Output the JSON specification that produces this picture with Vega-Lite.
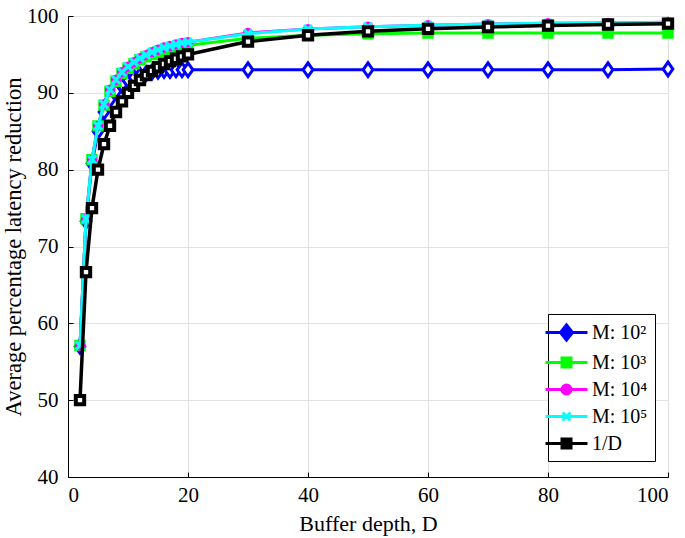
{
  "$schema": "https://vega.github.io/schema/vega-lite/v6.json",
  "width": 600,
  "height": 461,
  "autosize": "none",
  "padding": {"left": 68, "top": 16, "right": 17, "bottom": 61},
  "background": "white",
  "config": {
    "view": {"stroke": "black", "strokeWidth": 1},
    "font": "Liberation Serif",
    "axis": {
      "labelFont": "Liberation Serif",
      "labelFontSize": 21,
      "labelColor": "black",
      "titleFont": "Liberation Serif",
      "titleFontSize": 22,
      "titleFontWeight": "normal",
      "titleColor": "black",
      "domainColor": "black",
      "tickColor": "black",
      "tickSize": -5,
      "gridColor": "#e2e2e2",
      "gridWidth": 1
    },
    "legend": {
      "labelFont": "Liberation Serif",
      "labelFontSize": 20,
      "labelColor": "black"
    }
  },
  "data": {
    "values": [
      {"D": 2, "v": 57.0, "s": "M: 10²"}, {"D": 3, "v": 73.3, "s": "M: 10²"}, {"D": 4, "v": 80.8, "s": "M: 10²"}, {"D": 5, "v": 85.0, "s": "M: 10²"}, {"D": 6, "v": 87.5, "s": "M: 10²"}, {"D": 7, "v": 89.1, "s": "M: 10²"}, {"D": 8, "v": 90.2, "s": "M: 10²"}, {"D": 9, "v": 91.0, "s": "M: 10²"}, {"D": 10, "v": 91.6, "s": "M: 10²"}, {"D": 11, "v": 92.0, "s": "M: 10²"}, {"D": 12, "v": 92.3, "s": "M: 10²"}, {"D": 13, "v": 92.5, "s": "M: 10²"}, {"D": 14, "v": 92.7, "s": "M: 10²"}, {"D": 15, "v": 92.8, "s": "M: 10²"}, {"D": 16, "v": 92.9, "s": "M: 10²"}, {"D": 17, "v": 92.9, "s": "M: 10²"}, {"D": 18, "v": 93.0, "s": "M: 10²"}, {"D": 19, "v": 93.0, "s": "M: 10²"}, {"D": 20, "v": 93.0, "s": "M: 10²"}, {"D": 30, "v": 93.0, "s": "M: 10²"}, {"D": 40, "v": 93.0, "s": "M: 10²"}, {"D": 50, "v": 93.0, "s": "M: 10²"}, {"D": 60, "v": 93.0, "s": "M: 10²"}, {"D": 70, "v": 93.0, "s": "M: 10²"}, {"D": 80, "v": 93.0, "s": "M: 10²"}, {"D": 90, "v": 93.0, "s": "M: 10²"}, {"D": 100, "v": 93.1, "s": "M: 10²"},
      {"D": 2, "v": 57.1, "s": "M: 10³"}, {"D": 3, "v": 73.6, "s": "M: 10³"}, {"D": 4, "v": 81.3, "s": "M: 10³"}, {"D": 5, "v": 85.7, "s": "M: 10³"}, {"D": 6, "v": 88.4, "s": "M: 10³"}, {"D": 7, "v": 90.2, "s": "M: 10³"}, {"D": 8, "v": 91.5, "s": "M: 10³"}, {"D": 9, "v": 92.5, "s": "M: 10³"}, {"D": 10, "v": 93.2, "s": "M: 10³"}, {"D": 11, "v": 93.8, "s": "M: 10³"}, {"D": 12, "v": 94.3, "s": "M: 10³"}, {"D": 13, "v": 94.7, "s": "M: 10³"}, {"D": 14, "v": 95.0, "s": "M: 10³"}, {"D": 15, "v": 95.3, "s": "M: 10³"}, {"D": 16, "v": 95.5, "s": "M: 10³"}, {"D": 17, "v": 95.7, "s": "M: 10³"}, {"D": 18, "v": 95.9, "s": "M: 10³"}, {"D": 19, "v": 96.1, "s": "M: 10³"}, {"D": 20, "v": 96.2, "s": "M: 10³"}, {"D": 30, "v": 97.1, "s": "M: 10³"}, {"D": 40, "v": 97.5, "s": "M: 10³"}, {"D": 50, "v": 97.7, "s": "M: 10³"}, {"D": 60, "v": 97.8, "s": "M: 10³"}, {"D": 70, "v": 97.8, "s": "M: 10³"}, {"D": 80, "v": 97.8, "s": "M: 10³"}, {"D": 90, "v": 97.8, "s": "M: 10³"}, {"D": 100, "v": 97.8, "s": "M: 10³"},
      {"D": 2, "v": 57.1, "s": "M: 10⁴"}, {"D": 3, "v": 73.6, "s": "M: 10⁴"}, {"D": 4, "v": 81.3, "s": "M: 10⁴"}, {"D": 5, "v": 85.7, "s": "M: 10⁴"}, {"D": 6, "v": 88.5, "s": "M: 10⁴"}, {"D": 7, "v": 90.4, "s": "M: 10⁴"}, {"D": 8, "v": 91.7, "s": "M: 10⁴"}, {"D": 9, "v": 92.7, "s": "M: 10⁴"}, {"D": 10, "v": 93.4, "s": "M: 10⁴"}, {"D": 11, "v": 94.0, "s": "M: 10⁴"}, {"D": 12, "v": 94.5, "s": "M: 10⁴"}, {"D": 13, "v": 94.9, "s": "M: 10⁴"}, {"D": 14, "v": 95.3, "s": "M: 10⁴"}, {"D": 15, "v": 95.6, "s": "M: 10⁴"}, {"D": 16, "v": 95.9, "s": "M: 10⁴"}, {"D": 17, "v": 96.1, "s": "M: 10⁴"}, {"D": 18, "v": 96.3, "s": "M: 10⁴"}, {"D": 19, "v": 96.5, "s": "M: 10⁴"}, {"D": 20, "v": 96.6, "s": "M: 10⁴"}, {"D": 30, "v": 97.8, "s": "M: 10⁴"}, {"D": 40, "v": 98.3, "s": "M: 10⁴"}, {"D": 50, "v": 98.6, "s": "M: 10⁴"}, {"D": 60, "v": 98.8, "s": "M: 10⁴"}, {"D": 70, "v": 98.95, "s": "M: 10⁴"}, {"D": 80, "v": 99.05, "s": "M: 10⁴"}, {"D": 90, "v": 99.1, "s": "M: 10⁴"}, {"D": 100, "v": 99.2, "s": "M: 10⁴"},
      {"D": 2, "v": 57.1, "s": "M: 10⁵"}, {"D": 3, "v": 73.6, "s": "M: 10⁵"}, {"D": 4, "v": 81.3, "s": "M: 10⁵"}, {"D": 5, "v": 85.7, "s": "M: 10⁵"}, {"D": 6, "v": 88.5, "s": "M: 10⁵"}, {"D": 7, "v": 90.4, "s": "M: 10⁵"}, {"D": 8, "v": 91.7, "s": "M: 10⁵"}, {"D": 9, "v": 92.7, "s": "M: 10⁵"}, {"D": 10, "v": 93.4, "s": "M: 10⁵"}, {"D": 11, "v": 94.0, "s": "M: 10⁵"}, {"D": 12, "v": 94.5, "s": "M: 10⁵"}, {"D": 13, "v": 94.9, "s": "M: 10⁵"}, {"D": 14, "v": 95.3, "s": "M: 10⁵"}, {"D": 15, "v": 95.6, "s": "M: 10⁵"}, {"D": 16, "v": 95.9, "s": "M: 10⁵"}, {"D": 17, "v": 96.1, "s": "M: 10⁵"}, {"D": 18, "v": 96.3, "s": "M: 10⁵"}, {"D": 19, "v": 96.5, "s": "M: 10⁵"}, {"D": 20, "v": 96.6, "s": "M: 10⁵"}, {"D": 30, "v": 97.7, "s": "M: 10⁵"}, {"D": 40, "v": 98.3, "s": "M: 10⁵"}, {"D": 50, "v": 98.6, "s": "M: 10⁵"}, {"D": 60, "v": 98.8, "s": "M: 10⁵"}, {"D": 70, "v": 98.95, "s": "M: 10⁵"}, {"D": 80, "v": 99.05, "s": "M: 10⁵"}, {"D": 90, "v": 99.1, "s": "M: 10⁵"}, {"D": 100, "v": 99.2, "s": "M: 10⁵"},
      {"D": 2, "v": 50.0, "s": "1/D"}, {"D": 3, "v": 66.67, "s": "1/D"}, {"D": 4, "v": 75.0, "s": "1/D"}, {"D": 5, "v": 80.0, "s": "1/D"}, {"D": 6, "v": 83.33, "s": "1/D"}, {"D": 7, "v": 85.71, "s": "1/D"}, {"D": 8, "v": 87.5, "s": "1/D"}, {"D": 9, "v": 88.89, "s": "1/D"}, {"D": 10, "v": 90.0, "s": "1/D"}, {"D": 11, "v": 90.91, "s": "1/D"}, {"D": 12, "v": 91.67, "s": "1/D"}, {"D": 13, "v": 92.31, "s": "1/D"}, {"D": 14, "v": 92.86, "s": "1/D"}, {"D": 15, "v": 93.33, "s": "1/D"}, {"D": 16, "v": 93.75, "s": "1/D"}, {"D": 17, "v": 94.12, "s": "1/D"}, {"D": 18, "v": 94.44, "s": "1/D"}, {"D": 19, "v": 94.74, "s": "1/D"}, {"D": 20, "v": 95.0, "s": "1/D"}, {"D": 30, "v": 96.67, "s": "1/D"}, {"D": 40, "v": 97.5, "s": "1/D"}, {"D": 50, "v": 98.0, "s": "1/D"}, {"D": 60, "v": 98.33, "s": "1/D"}, {"D": 70, "v": 98.57, "s": "1/D"}, {"D": 80, "v": 98.75, "s": "1/D"}, {"D": 90, "v": 98.89, "s": "1/D"}, {"D": 100, "v": 99.0, "s": "1/D"}
    ]
  },
  "encoding": {
    "x": {
      "field": "D", "type": "quantitative",
      "scale": {"domain": [0, 100], "nice": false, "zero": false},
      "axis": {"values": [0, 20, 40, 60, 80, 100], "title": "Buffer depth, D", "labelPadding": 12, "titlePadding": 8, "grid": true}
    },
    "y": {
      "field": "v", "type": "quantitative",
      "scale": {"domain": [40, 100], "nice": false, "zero": false},
      "axis": {"values": [40, 50, 60, 70, 80, 90, 100], "title": "Average percentage latency reduction", "titleFontSize": 22.5, "labelPadding": 15, "titlePadding": 1, "grid": true}
    },
    "stroke": {
      "field": "s", "type": "nominal",
      "scale": {"domain": ["M: 10²", "M: 10³", "M: 10⁴", "M: 10⁵", "1/D"], "range": ["#0000ff", "#00ff00", "#ff00ff", "#00ffff", "#000000"]},
      "legend": {
        "title": null,
        "orient": "none",
        "legendX": 480,
        "legendY": 298,
        "padding": 7,
        "strokeColor": "black",
        "fillColor": "white",
        "symbolSize": 400,
        "symbolStrokeWidth": 3,
        "rowPadding": 5,
        "labelOffset": 14,
        "cornerRadius": 0,
        "encode": {
          "symbols": {
            "update": {
              "shape": {"signal": "datum.value === 'M: 10²' ? 'M-2.1,0H2.1M0,-0.75L0.6,0L0,0.75L-0.6,0Z' : datum.value === 'M: 10³' ? 'M-2.1,0H2.1M-0.45,-0.45H0.45V0.45H-0.45Z' : datum.value === 'M: 10⁴' ? 'M-2.1,0H2.1M-0.45,0A0.45,0.45,0,1,1,0.45,0A0.45,0.45,0,1,1,-0.45,0Z' : datum.value === 'M: 10⁵' ? 'M-2.1,0H2.1M-0.4,-0.4L0.4,0.4M0.4,-0.4L-0.4,0.4' : 'M-2.1,0H2.1M-0.45,-0.45H0.45V0.45H-0.45Z'"},
              "fill": {"signal": "datum.value === 'M: 10²' ? '#0000ff' : datum.value === 'M: 10³' ? '#00ff00' : datum.value === 'M: 10⁴' ? '#ff00ff' : datum.value === 'M: 10⁵' ? '#00ffff' : '#000000'"},
              "strokeWidth": {"value": 3},
              "opacity": {"value": 1}
            }
          }
        }
      }
    }
  },
  "layer": [
    {
      "transform": [{"filter": "datum.s === 'M: 10²'"}],
      "mark": {"type": "line", "strokeWidth": 3, "point": {"shape": "M0,-1.2L0.85,0L0,1.2L-0.85,0Z", "size": 130, "filled": true, "fill": "white", "strokeWidth": 3}}
    },
    {
      "transform": [{"filter": "datum.s === 'M: 10³'"}],
      "mark": {"type": "line", "strokeWidth": 3, "point": {"shape": "square", "size": 90, "filled": true, "fill": "#00ff00", "strokeWidth": 2}}
    },
    {
      "transform": [{"filter": "datum.s === 'M: 10⁴'"}],
      "mark": {"type": "line", "strokeWidth": 3, "point": {"shape": "circle", "size": 70, "filled": true, "fill": "#ff00ff", "strokeWidth": 2}}
    },
    {
      "transform": [{"filter": "datum.s === 'M: 10⁵'"}],
      "mark": {"type": "line", "strokeWidth": 3, "point": {"shape": "M-1,-1L1,1M1,-1L-1,1", "size": 64, "filled": false, "strokeWidth": 3}}
    },
    {
      "transform": [{"filter": "datum.s === '1/D'"}],
      "mark": {"type": "line", "strokeWidth": 3.5, "point": {"shape": "square", "size": 70, "filled": true, "fill": "white", "strokeWidth": 4}}
    }
  ]
}
